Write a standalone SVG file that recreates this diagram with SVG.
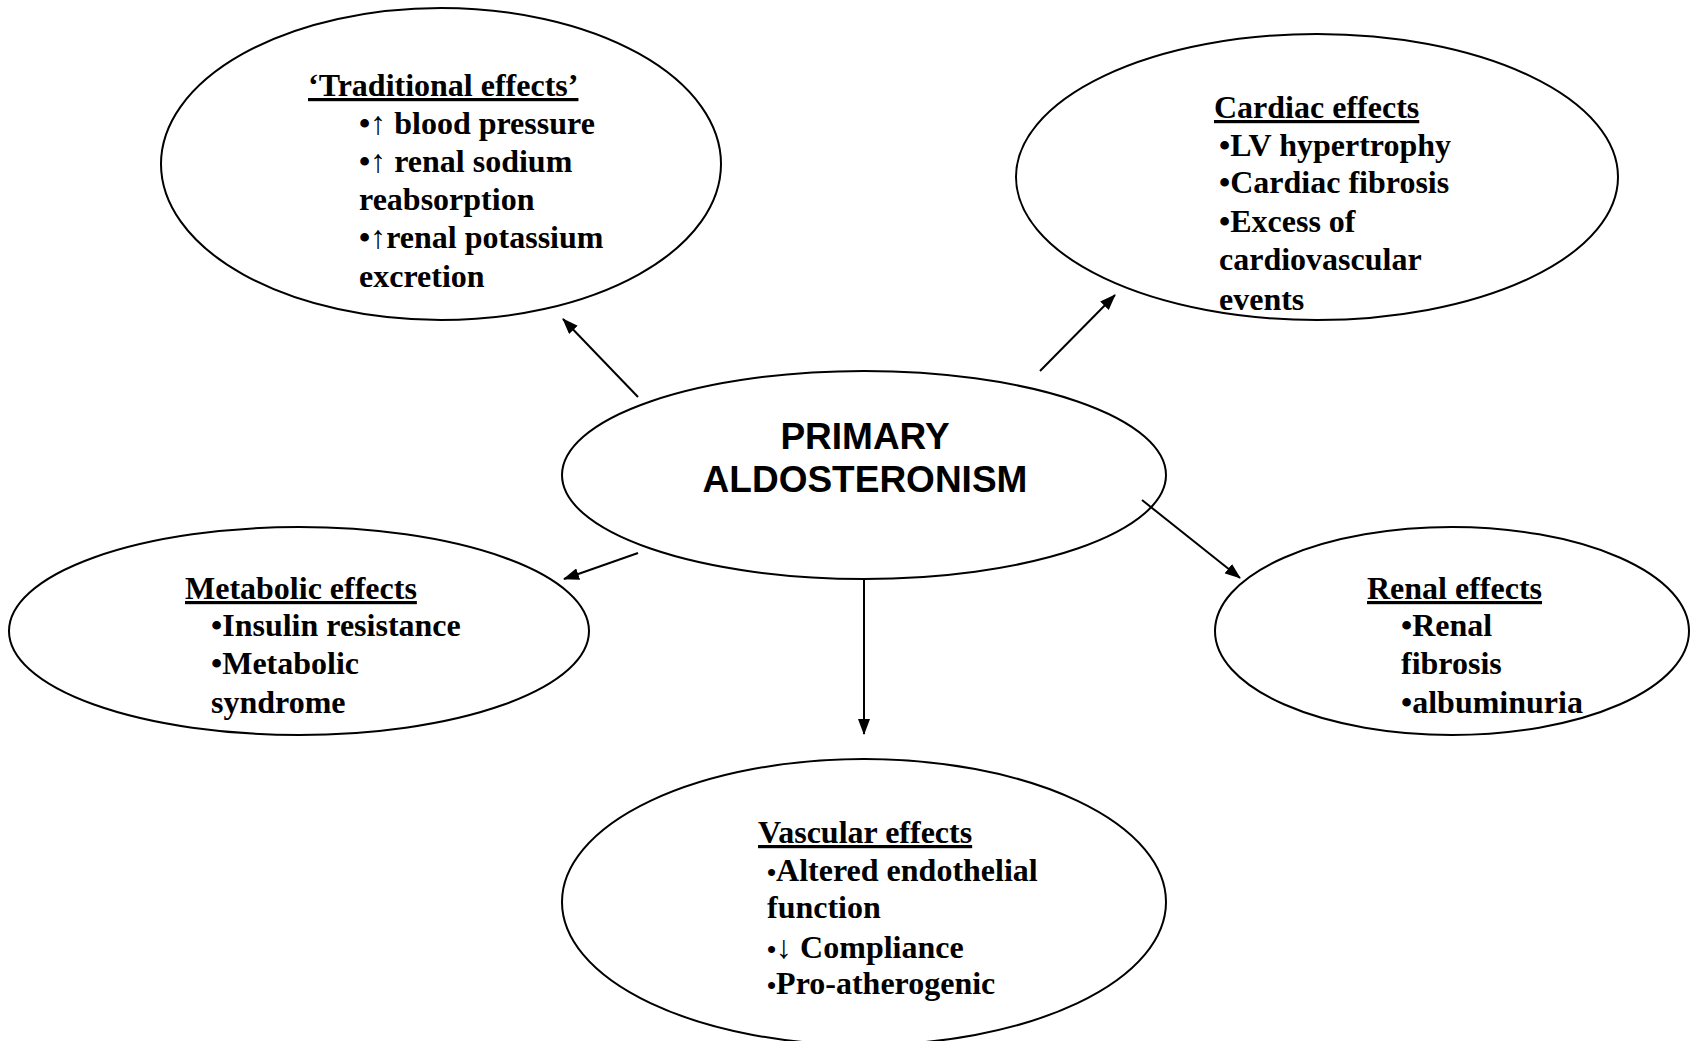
<svg xmlns="http://www.w3.org/2000/svg" width="1694" height="1041" viewBox="0 0 1694 1041">
<defs>
<style>
.node{fill:#fff;stroke:#000;stroke-width:2}
.t{font-family:"Liberation Serif","Times New Roman",serif;font-weight:bold;font-size:32px;fill:#000}
.h{text-decoration:underline}
.c{font-family:"Liberation Sans",Arial,sans-serif;font-weight:bold;font-size:37px;fill:#000;text-anchor:middle}
.ar{font-weight:normal}
.sb{font-size:26px}
.conn line{stroke:#000;stroke-width:2;marker-end:url(#ah)}
</style>
<marker id="ah" viewBox="0 0 16 12" refX="15" refY="6" markerWidth="16" markerHeight="12" markerUnits="userSpaceOnUse" orient="auto">
<path d="M0,0 L16,6 L0,12 Z" fill="#000"/>
</marker>
</defs>
<rect width="1694" height="1041" fill="#fff"/>
<g id="traditional">
<ellipse class="node" cx="441" cy="164" rx="280" ry="156"/>
<text class="t"><tspan class="h" x="308" y="96">‘Traditional effects’</tspan><tspan x="359" y="134">•<tspan class="ar">↑</tspan> blood pressure</tspan><tspan x="359" y="172">•<tspan class="ar">↑</tspan> renal sodium</tspan><tspan x="359" y="210">reabsorption</tspan><tspan x="359" y="248">•<tspan class="ar">↑</tspan>renal potassium</tspan><tspan x="359" y="287">excretion</tspan></text>
</g>
<g id="cardiac">
<ellipse class="node" cx="1317" cy="177" rx="301" ry="143"/>
<text class="t"><tspan class="h" x="1214" y="118">Cardiac effects</tspan><tspan x="1219" y="156">•LV hypertrophy</tspan><tspan x="1219" y="193">•Cardiac fibrosis</tspan><tspan x="1219" y="232">•Excess of</tspan><tspan x="1219" y="270">cardiovascular</tspan><tspan x="1219" y="310">events</tspan></text>
</g>
<g id="primary">
<ellipse class="node" cx="864" cy="475" rx="302" ry="104"/>
<text class="c"><tspan x="865" y="449">PRIMARY</tspan><tspan x="865" y="492">ALDOSTERONISM</tspan></text>
</g>
<g id="metabolic">
<ellipse class="node" cx="299" cy="631" rx="290" ry="104"/>
<text class="t"><tspan class="h" x="185" y="599">Metabolic effects</tspan><tspan x="211" y="636">•Insulin resistance</tspan><tspan x="211" y="674">•Metabolic</tspan><tspan x="211" y="713">syndrome</tspan></text>
</g>
<g id="renal">
<ellipse class="node" cx="1452" cy="631" rx="237" ry="104"/>
<text class="t"><tspan class="h" x="1367" y="599">Renal effects</tspan><tspan x="1401" y="636">•Renal</tspan><tspan x="1401" y="674">fibrosis</tspan><tspan x="1401" y="713">•albuminuria</tspan></text>
</g>
<g id="vascular">
<ellipse class="node" cx="864" cy="902" rx="302" ry="143"/>
<text class="t"><tspan class="h" x="758" y="843">Vascular effects</tspan><tspan x="767" y="881"><tspan class="sb">•</tspan>Altered endothelial</tspan><tspan x="767" y="918">function</tspan><tspan x="767" y="958"><tspan class="sb">•</tspan><tspan class="ar">↓</tspan> Compliance</tspan><tspan x="767" y="994"><tspan class="sb">•</tspan>Pro-atherogenic</tspan></text>
</g>
<g id="connectors" class="conn">
<line x1="638" y1="397" x2="563" y2="319"/>
<line x1="1040" y1="371" x2="1115" y2="295"/>
<line x1="638" y1="553" x2="564" y2="579"/>
<line x1="1142" y1="500" x2="1240" y2="578"/>
<line x1="864" y1="579" x2="864" y2="734"/>
</g>
</svg>
